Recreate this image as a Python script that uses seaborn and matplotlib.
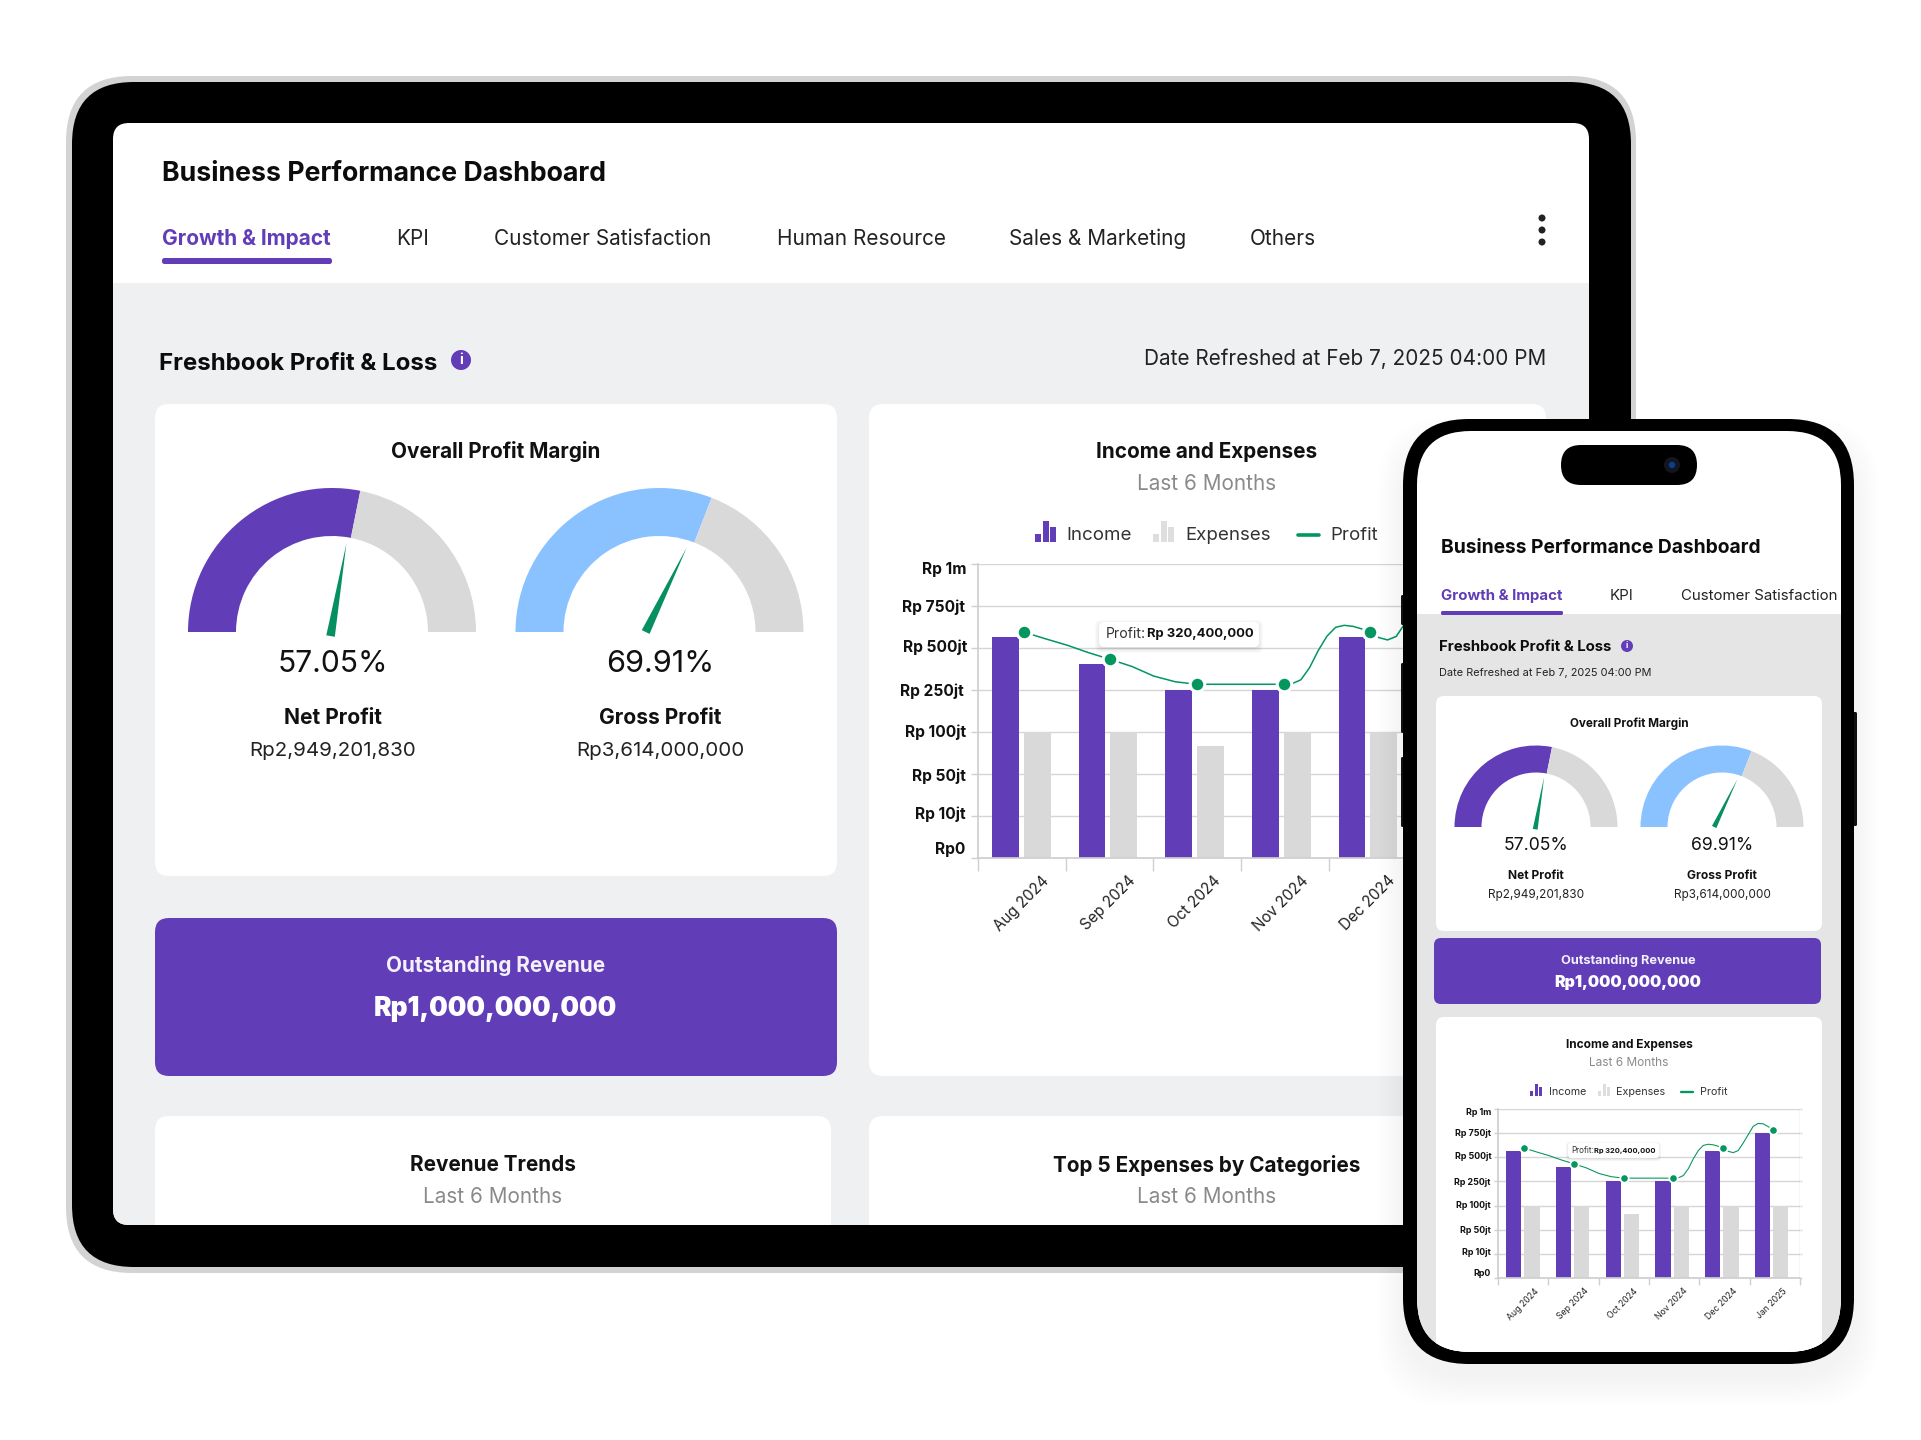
import numpy as np
import matplotlib
matplotlib.use('Agg')
import matplotlib.pyplot as plt
import seaborn as sns
import pandas as pd
from matplotlib.patches import FancyBboxPatch, Rectangle, Circle, Polygon
from matplotlib.transforms import ScaledTranslation

sns.set_theme(style='white')
plt.rcParams['font.family'] = ['Inter', 'DejaVu Sans']

# Chart values
months = ['Aug 2024', 'Sep 2024', 'Oct 2024', 'Nov 2024', 'Dec 2024', 'Jan 2025']
income = [566, 402, 250, 250, 566, 750]
expenses = [100, 100, 83.5, 100, 100, 100]
profit = [595, 432, 284, 284, 595, 785]
profit_x = [0, 1, 2, 3, 4, 5]
curve_x = [0, .25, .5, .75, 1, 1.25, 1.5, 1.75, 2, 2.5, 3, 3.1, 3.2, 3.3, 3.4, 3.5, 3.6, 3.7, 3.8, 3.9,
           4, 4.1, 4.2, 4.3, 4.4, 4.5, 4.6, 4.7, 4.8, 4.9, 5]
curve_y = [595, 555, 517, 472, 432, 390, 333, 299, 284, 284, 284, 288, 311, 383, 485, 570, 623, 635, 629, 614,
           595, 562, 548, 569, 646, 732, 819, 850, 847, 819, 785]
y_ticks = [0, 10, 50, 100, 250, 500, 750, 1000]
y_labels = ['Rp0', 'Rp 10jt', 'Rp 50jt', 'Rp 100jt', 'Rp 250jt', 'Rp 500jt', 'Rp 750jt', 'Rp 1m']
label_dy = [9.6, 3.6, -.4, 1, 0, 2.5, .4, -3.6]
label_dx = [-1, -.7, -.4, 0, -1.8, 1.4, -.7, 0]

gauge_fill = [56.3, 61.8]
needle_value = [55.4, 64.4]
needle_base = [(-.01, -.028), (-.096, 0)]
gauge_pct = ['57.05%', '69.91%']
gauge_names = ['Net Profit', 'Gross Profit']
gauge_amounts = ['Rp2,949,201,830', 'Rp3,614,000,000']
gauge_colors = ['#613DB7', '#8AC2FF']
tabs = ['Growth & Impact', 'KPI', 'Customer Satisfaction', 'Human Resource', 'Sales & Marketing', 'Others']
tab_x = [162, 396, 494, 777, 1009, 1250]

PURPLE = '#613DB7'
GREY = '#D9D9D9'
GREEN = '#04965F'
W, H = 1921, 1440

fig = plt.figure(figsize=(W / 100, H / 100), dpi=100, facecolor='white')


def px_axes(x0, y0, x1, y1, z):
    ax = fig.add_axes([x0 / W, 1 - y1 / H, (x1 - x0) / W, (y1 - y0) / H], zorder=z)
    ax.patch.set_alpha(0)
    return ax


def overlay(z):
    ax = px_axes(0, 0, W, H, z)
    ax.set_xlim(0, W)
    ax.set_ylim(H, 0)
    ax.axis('off')
    return ax


def box(ax, x0, y0, x1, y1, r, color, **kw):
    p = FancyBboxPatch((x0 + r, y0 + r), x1 - x0 - 2 * r, y1 - y0 - 2 * r,
                       boxstyle=f'round,pad={r},rounding_size={r}', fc=color, ec='none', lw=0, **kw)
    ax.add_patch(p)
    return p


def txt(ax, x, y, s, px, weight='normal', color='#111111', ha='left', **kw):
    return ax.text(x, y, s, fontsize=px * .72, fontweight=weight, color=color, ha=ha, va='center', **kw)


def gauge(cx, cy, r, inner, i, z):
    ax = px_axes(cx - r, cy - r, cx + r, cy + r, z)
    ax.pie([gauge_fill[i], 100 - gauge_fill[i], 100], colors=[gauge_colors[i], GREY, 'none'], radius=1,
           startangle=180, counterclock=False, wedgeprops={'width': 1 - inner / r, 'linewidth': 0})
    ax.set_xlim(-1, 1)
    ax.set_ylim(-1, 1)
    angle = np.radians((needle_value[i] - 50) * 1.8)
    bx, by = needle_base[i]
    tip = (bx + .65 * np.sin(angle), by + .65 * np.cos(angle))
    side = .03 * np.cos(angle), -.03 * np.sin(angle)
    ax.add_patch(Polygon([tip, (bx + side[0], by + side[1]), (bx - side[0], by - side[1])],
                         fc='#07905F', ec='none', clip_on=False))


def chart(ax, s):
    df = pd.DataFrame({'month': months * 2, 'value': income + expenses,
                       'series': ['Income'] * 6 + ['Expenses'] * 6})
    ax.set_yscale('function', functions=(lambda v: np.interp(v, y_ticks, np.arange(8)),
                                         lambda r: np.interp(r, np.arange(8), y_ticks)))
    sns.barplot(data=df, x='month', y='value', hue='series', palette={'Income': PURPLE, 'Expenses': GREY},
                width=.736, gap=.158, saturation=1, linewidth=0, legend=False, ax=ax)
    sns.lineplot(x=[v + .027 for v in curve_x], y=curve_y, color=GREEN, linewidth=.75 * s + .35, sort=False,
                 estimator=None, ax=ax, zorder=4)
    sns.scatterplot(x=[v + .027 for v in profit_x], y=profit, color=GREEN, s=(10.5 * s) ** 2, edgecolor='white',
                    linewidth=2.2 * s, ax=ax, zorder=5, clip_on=False)
    ax.set_xlim(-.5, 5.57)
    ax.set_ylim(0, 1000)
    ax.set_xlabel('')
    ax.set_ylabel('')
    ax.set_yticks(y_ticks)
    ax.set_yticklabels(y_labels, fontsize=15.5 * s * .72, fontweight='bold', color='#111111')
    ax.minorticks_off()
    ax.set_xticks(range(6))
    ax.set_xticklabels(months, rotation=45, ha='center', fontsize=15.2 * s * .72, color='#222222')
    ax.set_xticks(-.5 + np.arange(7) * 1.0118, minor=True)
    ax.tick_params(axis='x', which='major', length=0, pad=15 * s * .72)
    ax.tick_params(axis='x', which='minor', length=13 * s * .72, width=1, color='#cfcfcf', bottom=True)
    ax.tick_params(axis='y', which='major', length=7 * s * .72, width=1, color='#cfcfcf', pad=5 * s * .72, left=True)
    ax.yaxis.grid(True, color='#d6d6d6', linewidth=1)
    ax.set_axisbelow(True)
    ax.hlines(y_ticks, 5.57, 5.57 + .045, color='#d6d6d6', linewidth=1, clip_on=False)
    sns.despine(ax=ax, top=True, right=True)
    for sp in ['left', 'bottom']:
        ax.spines[sp].set_color('#cfcfcf')
    ax.vlines(5.57, 0, 1000, color='#cfcfcf', linewidth=1, zorder=1)
    for lab, dy, dx in zip(ax.get_yticklabels(), label_dy, label_dx):
        off = ScaledTranslation(dx * s / 100, dy * s / 100, fig.dpi_scale_trans)
        lab.set_transform(lab.get_transform() + off)


def legend_icon(ax, x, y, s, color):
    # three small ascending bars drawn as the legend key
    bw = 5.6 * s
    for dx, h in zip((0, 8 * s, 15.4 * s), (8 * s, 21 * s, 15 * s)):
        ax.add_patch(Rectangle((x + dx, y - h), bw, h, fc=color, ec='none'))


def chart_head(ax, cx, ys, s, xs):
    txt(ax, cx, ys[0], 'Income and Expenses', 20.7 * s, 'bold', ha='center')
    txt(ax, cx, ys[1], 'Last 6 Months', 20.7 * s, color='#8a8a8a', ha='center')
    legend_icon(ax, xs[0], ys[2] + 7 * s, s, PURPLE)
    txt(ax, xs[1], ys[2], 'Income', 18.7 * s, color='#333333')
    legend_icon(ax, xs[2], ys[2] + 7 * s, s, '#DEDEDE')
    txt(ax, xs[3], ys[2], 'Expenses', 18.7 * s, color='#333333')
    ax.plot([xs[4], xs[4] + 20.6 * s], [ys[2], ys[2]], color=GREEN, lw=2.2 * s + .4)
    txt(ax, xs[5], ys[2], 'Profit', 18.7 * s, color='#333333')


def tooltip(ax, x0, y0, x1, y1, s, t0, t1):
    for k in range(5):
        box(ax, x0 - k * s, y0 - k * s + 2 * s, x1 + k * s, y1 + k * s + 2 * s, 6 * s, '#000000', alpha=.018)
    box(ax, x0, y0, x1, y1, 5 * s, 'white')
    txt(ax, t0, (y0 + y1) / 2, 'Profit:', 14 * s, color='#333333')
    txt(ax, t1, (y0 + y1) / 2, 'Rp 320,400,000', 13 * s, 'bold', color='#111111')


# Tablet
base = overlay(0)
box(base, 66, 76, 1636, 1273, 66, '#D3D3D3')
box(base, 72, 82, 1631, 1267, 62, '#000000')
screen = box(base, 113, 123, 1589, 1225, 16, 'white')
grey = base.add_patch(Rectangle((113, 283), 1476, 950, fc='#EEF0F1', ec='none'))
grey.set_clip_path(screen)
txt(base, 162, 174, 'Business Performance Dashboard', 26.7, 'bold', color='#0c0c0c')
for i, (t, x) in enumerate(zip(tabs, tab_x)):
    txt(base, x, 239, t, 20.8, 'bold' if i == 0 else 'normal', color=PURPLE if i == 0 else '#222222')
box(base, 162, 258, 332, 264, 2.5, PURPLE)
for y in (218, 230, 242):
    base.add_patch(Circle((1542, y), 3.5, fc='#222222', ec='none'))
txt(base, 159, 364, 'Freshbook Profit & Loss', 24, 'bold', color='#0c0c0c')
base.add_patch(Circle((461, 360), 10, fc=PURPLE, ec='none'))
txt(base, 461, 360, 'i', 14, 'bold', color='white', ha='center')
txt(base, 1546, 359, 'Date Refreshed at Feb 7, 2025 04:00 PM', 20.7, color='#222222', ha='right')

box(base, 155, 404, 837, 876, 14, 'white')
box(base, 869, 404, 1546, 1076, 14, 'white')
box(base, 155, 918, 837, 1076, 14, PURPLE)
box(base, 155, 1116, 831, 1300, 14, 'white').set_clip_path(screen)
box(base, 869, 1116, 1546, 1300, 14, 'white').set_clip_path(screen)
txt(base, 496, 452, 'Overall Profit Margin', 20.7, 'bold', ha='center')
for i, cx in enumerate((333, 660)):
    txt(base, cx, 664, gauge_pct[i], 30.6 if i else 30, ha='center')
    txt(base, cx, 718, gauge_names[i], 21, 'bold', ha='center')
    txt(base, cx, 751, gauge_amounts[i], 20.5, color='#222222', ha='center')
txt(base, 495.5, 966, 'Outstanding Revenue', 20.7, 'bold', color='#f4f1fb', ha='center')
txt(base, 495.5, 1009, 'Rp1,000,000,000', 26.3, 'black', color='white', ha='center')
txt(base, 493, 1165, 'Revenue Trends', 20.7, 'bold', ha='center')
txt(base, 493, 1197, 'Last 6 Months', 20.7, color='#8a8a8a', ha='center')
txt(base, 1207, 1165, 'Top 5 Expenses by Categories', 20.7, 'bold', ha='center')
txt(base, 1207, 1197, 'Last 6 Months', 20.7, color='#8a8a8a', ha='center')
chart_head(base, 1207, (452, 484, 535), 1, (1035, 1066, 1153, 1185, 1298, 1330))

gauge(332, 632, 144, 96, 0, 1)
gauge(659.5, 632, 144, 96, 1, 1)
chart(px_axes(978, 564, 1504, 858, 1), 1)
tablet_top = overlay(1.5)
tooltip(tablet_top, 1099, 622, 1259, 647, 1, 1106, 1147)

# Phone
phone = overlay(2)
for k in range(12):
    box(phone, 1403 - 25 + k * 2.2, 418 + k * 2.2, 1854 + 25 - k * 2.2, 1364 + 42 - k * 2.5, 70, '#000000', alpha=.005)
for y0, y1 in ((595, 625), (663, 733), (757, 827)):
    box(phone, 1401, y0, 1406, y1, 1.5, '#111111')
box(phone, 1851, 712, 1857, 826, 1.5, '#111111')
box(phone, 1403, 419, 1854, 1364, 66, '#000000')
pscreen = box(phone, 1417, 431, 1841, 1352, 54, 'white')
pgrey = phone.add_patch(Rectangle((1417, 614), 424, 740, fc='#E5E5E5', ec='none'))
pgrey.set_clip_path(pscreen)
box(phone, 1561, 445, 1697, 485, 20, '#000000')
phone.add_patch(Circle((1672, 465), 8, fc='#12161f', ec='none'))
phone.add_patch(Circle((1672, 465), 3.2, fc='#0b3f8a', ec='none'))
txt(phone, 1441, 548, 'Business Performance Dashboard', 19.2, 'bold', color='#0c0c0c')
txt(phone, 1441, 596, tabs[0], 15, 'bold', color=PURPLE)
txt(phone, 1610, 596, tabs[1], 15, color='#222222')
txt(phone, 1681, 596, tabs[2], 15, color='#222222')
box(phone, 1441, 611, 1563, 615, 1.5, PURPLE)
txt(phone, 1439, 647, 'Freshbook Profit & Loss', 14.9, 'bold', color='#0c0c0c')
phone.add_patch(Circle((1627, 646), 6, fc=PURPLE, ec='none'))
txt(phone, 1627, 646, 'i', 8.5, 'bold', color='white', ha='center')
txt(phone, 1439, 672.5, 'Date Refreshed at Feb 7, 2025 04:00 PM', 10.95, color='#222222')
box(phone, 1436, 696, 1822, 931, 8, 'white')
box(phone, 1434, 938, 1821, 1004, 7, PURPLE)
box(phone, 1436, 1017, 1822, 1400, 8, 'white').set_clip_path(pscreen)
txt(phone, 1629, 724, 'Overall Profit Margin', 11.7, 'bold', ha='center')
for i, cx in enumerate((1536, 1722)):
    txt(phone, cx, 846, gauge_pct[i], 17.6, ha='center')
    txt(phone, cx, 876, gauge_names[i], 12, 'bold', ha='center')
    txt(phone, cx, 895, gauge_amounts[i], 11.8, color='#222222', ha='center')
txt(phone, 1628, 961, 'Outstanding Revenue', 12.8, 'bold', color='#f4f1fb', ha='center')
txt(phone, 1628, 983, 'Rp1,000,000,000', 15.9, 'black', color='white', ha='center')
chart_head(phone, 1629, (1045, 1063, 1092), .574, (1530, 1549, 1598, 1616, 1681, 1700))

gauge(1536, 827, 81.5, 54.5, 0, 3)
gauge(1722, 827, 81.5, 54.5, 1, 3)
chart(px_axes(1498, 1109, 1800, 1278, 3), .574)
phone_top = overlay(3.5)
tooltip(phone_top, 1568, 1143, 1659, 1158, .574, 1571.5, 1594.5)

fig.savefig('out.png', dpi=100)
